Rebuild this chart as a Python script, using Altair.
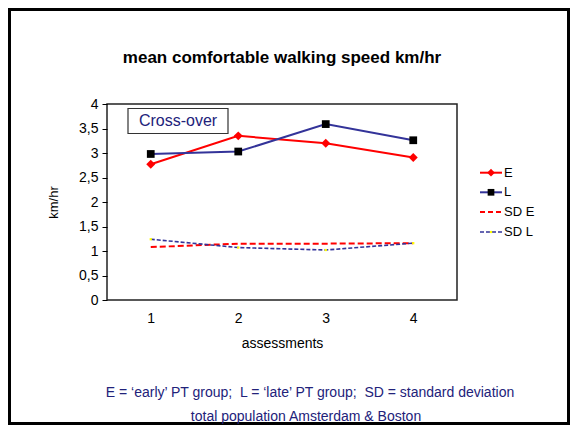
import altair as alt
import pandas as pd

# ---- data ----
assessments = ["1", "2", "3", "4"]
E = [2.77, 3.35, 3.20, 2.91]
L = [2.98, 3.03, 3.59, 3.26]
SD_E = [1.08, 1.15, 1.15, 1.16]
SD_L = [1.24, 1.07, 1.02, 1.16]
series_names = ["E", "L", "SD E", "SD L"]
y_ticks = [0, 0.5, 1, 1.5, 2, 2.5, 3, 3.5, 4]

title_text = "mean comfortable walking speed km/hr"
box_text = "Cross-over"
footer1 = "E = \u2018early\u2019 PT group;\u00a0 L = \u2018late\u2019 PT group;\u00a0 SD = standard deviation"
footer2 = "total population Amsterdam & Boston"

FONT = "Liberation Sans, Arial"
NAVY = "#333399"
TEXTNAVY = "#22227a"

rows = []
for name, vals in zip(series_names, [E, L, SD_E, SD_L]):
    for a, v in zip(assessments, vals):
        rows.append({"assessment": a, "value": v, "series": name})
df = pd.DataFrame(rows)

W, H = 350, 196
PL, PT, PR, PB = 99, 96, 113, 125

x_enc = alt.X("assessment:O", scale=alt.Scale(type="point", padding=0.5),
              axis=alt.Axis(title="assessments", labelAngle=0, ticks=False, domain=False,
                            labelPadding=11, labelFontSize=14, titleFontSize=14,
                            titleFontWeight="normal", titlePadding=11, labelFont=FONT,
                            titleFont=FONT, labelColor="black", titleColor="black"))
y_enc = alt.Y("value:Q", scale=alt.Scale(domain=[0, 4], nice=False),
              axis=alt.Axis(title="km/hr", values=y_ticks, grid=False, domain=False,
                            tickSize=5, tickColor="black", labelPadding=4,
                            labelExpr="replace(toString(datum.value), '.', ',')",
                            labelFontSize=14, titleFontSize=13, titleFontWeight="normal",
                            titlePadding=18, labelFont=FONT, titleFont=FONT,
                            labelColor="black", titleColor="black"))

base = alt.Chart(df).encode(x=x_enc, y=y_enc)

def sel(name):
    return base.transform_filter(alt.datum.series == name)

e_line = sel("E").mark_line(color="red", strokeWidth=2)
e_pts = sel("E").mark_point(shape="diamond", filled=True, color="red", size=80, opacity=1)
l_line = sel("L").mark_line(color=NAVY, strokeWidth=2)
l_pts = sel("L").mark_point(shape="square", filled=True, color="black", size=60, opacity=1)
sde_line = sel("SD E").mark_line(color="red", strokeWidth=2, strokeDash=[6, 3])
sdl_line = sel("SD L").mark_line(color=NAVY, strokeWidth=1.6, strokeDash=[4, 2])
sdl_pts = sel("SD L").mark_point(shape="square", filled=True, color="#ffff00", size=5, opacity=1)

one = pd.DataFrame({"k": [0]})

def txt(text, x, y, size, color="black", weight="normal", align="center"):
    return alt.Chart(one).mark_text(font=FONT, fontSize=size, color=color, fontWeight=weight,
                                    align=align, baseline="middle").encode(
        x=alt.value(x), y=alt.value(y), text=alt.value(text))

# outer frame
frame = alt.Chart(one).mark_rect(fillOpacity=0, stroke="black", strokeWidth=3).encode(
    x=alt.value(-PL + 1.5), x2=alt.value(W + PR - 1.5),
    y=alt.value(-PT + 1.5), y2=alt.value(H + PB - 1.5))

# cross-over box
box = alt.Chart(one).mark_rect(fill="white", stroke="#333333", strokeWidth=1.2).encode(
    x=alt.value(21), x2=alt.value(121), y=alt.value(4.5), y2=alt.value(29.5))
box_t = txt(box_text, 71, 17, 16, TEXTNAVY)

title = txt(title_text, 175, -46, 17, "black", "bold")
f1 = txt(footer1, 203, 289, 14, TEXTNAVY)
f2 = txt(footer2, 199, 313, 14, TEXTNAVY)

# manual legend
leg_layers = []
leg_y = [68.7, 88.3, 108, 128]
styles = [
    dict(color="red", dash=None, width=2, shape="diamond", mcolor="red", msize=60),
    dict(color=NAVY, dash=None, width=2, shape="square", mcolor="black", msize=45),
    dict(color="red", dash=[5, 3], width=2, shape=None, mcolor=None, msize=0),
    dict(color=NAVY, dash=[4, 2], width=1.6, shape="square", mcolor="#ffff00", msize=5),
]
for name, yy, st in zip(series_names, leg_y, styles):
    kw = dict(color=st["color"], strokeWidth=st["width"])
    if st["dash"]:
        kw["strokeDash"] = st["dash"]
    leg_layers.append(alt.Chart(one).mark_rule(**kw).encode(
        x=alt.value(373), x2=alt.value(395), y=alt.value(yy)))
    if st["shape"]:
        leg_layers.append(alt.Chart(one).mark_point(shape=st["shape"], filled=True,
                                                    color=st["mcolor"], size=st["msize"],
                                                    opacity=1).encode(
            x=alt.value(384), y=alt.value(yy)))
    leg_layers.append(txt(name, 397, yy, 13, "black", align="left"))

chart = alt.layer(
    frame, box, box_t,
    e_line, l_line, sde_line, sdl_line, e_pts, l_pts, sdl_pts,
    title, f1, f2, *leg_layers
).properties(
    width=W, height=H,
    autosize=alt.AutoSizeParams(type="none"),
    padding={"left": PL, "top": PT, "right": PR, "bottom": PB},
    background="white",
).configure_view(stroke="#222222", strokeWidth=1.5)

chart.save("out.html", embed_options={"renderer": "svg", "actions": False})
